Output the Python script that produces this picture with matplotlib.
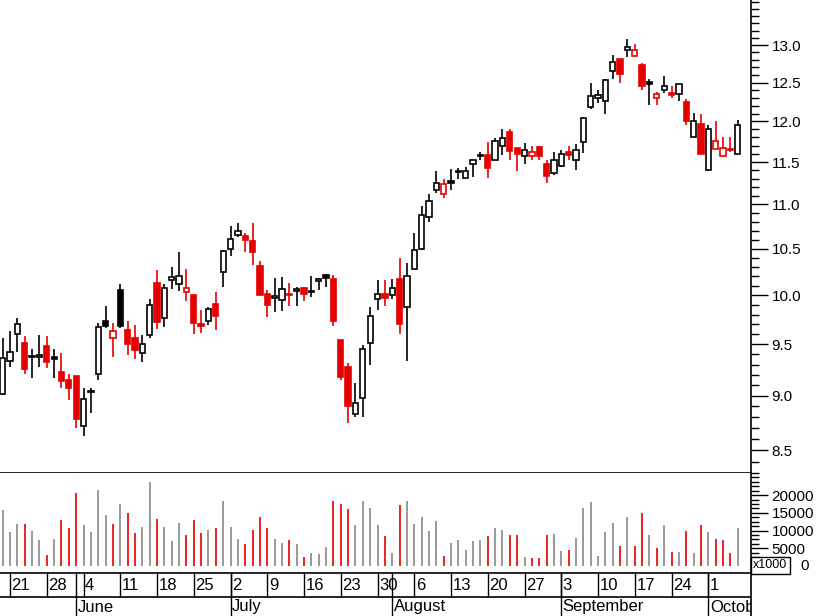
import matplotlib
matplotlib.use("Agg")
import matplotlib.pyplot as plt
import matplotlib.ticker as mt
import numpy as np

plt.rcParams['font.family'] = ['Liberation Sans', 'DejaVu Sans']

opens = [9.02,9.33,9.60,9.51,9.38,9.37,9.48,9.37,9.23,9.15,9.19,8.72,9.04,9.21,9.73,9.56,10.06,9.64,9.56,9.41,
         9.59,10.13,9.76,10.16,10.12,10.04,10.00,9.70,9.73,9.91,10.25,10.50,10.65,10.64,10.59,10.31,10.01,9.97,9.95,10.01,
         10.05,10.08,10.03,10.15,10.22,10.17,9.54,9.28,8.83,8.98,9.51,9.96,10.01,10.00,10.17,9.88,10.28,10.50,10.86,11.17,
         11.12,11.27,11.38,11.31,11.48,11.58,11.58,11.52,11.69,11.87,11.67,11.57,11.57,11.68,11.48,11.37,11.45,11.62,11.52,11.74,
         12.18,12.30,12.26,12.65,12.81,12.93,12.85,12.73,12.51,12.30,12.40,12.36,12.35,12.25,11.81,11.97,11.40,11.66,11.57,11.65,11.60]
highs = [9.56,9.63,9.77,9.58,9.45,9.59,9.58,9.45,9.41,9.21,9.19,9.07,9.07,9.71,9.89,9.71,10.12,9.73,9.69,9.59,
         9.96,10.27,10.12,10.30,10.47,10.28,10.00,9.85,9.88,10.04,10.49,10.75,10.79,10.68,10.79,10.37,10.06,10.18,10.19,10.13,
         10.09,10.09,10.20,10.18,10.23,10.21,9.54,9.31,9.12,9.49,9.88,10.16,10.16,10.17,10.40,10.34,10.67,10.98,11.12,11.39,
         11.30,11.42,11.43,11.44,11.52,11.62,11.74,11.79,11.91,11.91,11.67,11.73,11.69,11.70,11.52,11.62,11.65,11.69,11.72,12.05,
         12.49,12.40,12.55,12.86,12.81,13.09,13.02,12.76,12.55,12.38,12.58,12.45,12.48,12.29,12.11,12.10,11.96,12.00,11.81,11.81,12.02]
lows = [9.01,9.28,9.42,9.21,9.17,9.28,9.27,9.17,9.07,8.96,8.70,8.63,8.84,9.15,9.66,9.37,9.66,9.39,9.35,9.32,
        9.56,9.65,9.67,10.07,10.05,9.94,9.60,9.61,9.69,9.64,10.09,10.42,10.63,10.46,10.32,10.00,9.78,9.83,9.84,9.89,
        9.89,9.94,9.98,10.06,10.09,9.68,9.15,8.75,8.80,8.80,9.30,9.85,9.89,9.96,9.60,9.33,10.28,10.49,10.80,11.13,
        11.07,11.17,11.30,11.31,11.32,11.52,11.31,11.52,11.58,11.52,11.39,11.48,11.53,11.52,11.25,11.34,11.44,11.52,11.40,11.61,
        12.16,12.23,12.10,12.55,12.50,12.84,12.85,12.40,12.21,12.21,12.36,12.30,12.26,11.96,11.81,11.60,11.39,11.66,11.57,11.62,11.60]
closes = [9.36,9.42,9.70,9.26,9.37,9.39,9.32,9.35,9.14,9.07,8.78,8.97,9.05,9.67,9.68,9.63,9.68,9.50,9.44,9.50,
          9.90,9.72,10.08,10.19,10.20,10.08,9.71,9.68,9.86,9.79,10.48,10.61,10.70,10.60,10.46,10.00,9.90,9.99,10.07,10.00,
          10.07,10.01,10.05,10.17,10.18,9.73,9.18,8.90,8.93,9.45,9.79,10.01,9.97,10.08,9.70,10.20,10.49,10.88,11.04,11.25,
          11.24,11.25,11.39,11.39,11.52,11.57,11.43,11.76,11.79,11.64,11.60,11.65,11.62,11.57,11.33,11.52,11.60,11.58,11.65,12.04,
          12.32,12.34,12.53,12.77,12.61,12.97,12.94,12.45,12.48,12.35,12.45,12.34,12.48,12.00,12.01,11.60,11.90,11.76,11.67,11.66,11.95]
volumes = [15800,9700,11800,11800,9900,7300,3100,7600,13000,10700,20700,11600,9700,21400,14400,11800,17500,15000,9400,10900,
           23700,13300,11100,7100,12100,8700,13000,9300,10300,10800,18300,11000,7600,6200,10200,13800,10700,7600,6600,7300,
           6200,2400,3700,3400,5300,18300,17600,16100,11600,18300,16400,11600,8500,3600,17200,18300,11800,13800,10000,12700,
           2700,6600,7300,4500,7100,7300,8500,10700,10200,8700,8700,2400,2200,2200,8700,9000,4200,4500,7900,16400,
           18000,2800,9700,12100,5600,13900,5600,14900,8700,5100,11600,4000,3900,9900,3600,11600,9600,7600,7300,3600,10700]

week_idx = [1,6,11,16,21,26,31,36,41,46,51,56,61,66,71,76,81,86,91,96]
week_labels = ['21','28','4','11','18','25','2','9','16','23','30','6','13','20','27','3','10','17','24','1']
month_idx = [10,31,53,76,96]
month_labels = ['June','July','August','September','October']

RED = '#e60000'
n = len(closes)
x = np.arange(n)
prev = [opens[0]] + closes[:-1]
cols = [RED if c < p else 'black' for c, p in zip(closes, prev)]

W, H = 817, 616
fig = plt.figure(figsize=(W/100, H/100), dpi=100)
xl = (-0.367, 101.77)
axL, axR = 0/W, 750.7/W

ax = fig.add_axes([axL, 1-473/H, axR-axL, 473/H])
ax.set_yscale('log')
ax.set_ylim(8.30, 13.63)
ax.set_xlim(*xl)
bw = 0.72
for i in range(n):
    o, h, l, c = opens[i], highs[i], lows[i], closes[i]
    col = cols[i]
    top, bot = max(o, c), min(o, c)
    ax.vlines(x[i], top, h, color=col, lw=1.2, zorder=2)
    ax.vlines(x[i], l, bot, color=col, lw=1.2, zorder=2)
    hgt = max(top-bot, 0.004)
    filled = c < o
    ax.bar(x[i], hgt, bottom=bot, width=bw, facecolor=col if filled else 'white',
           edgecolor=col, lw=1.2, zorder=3)
ax.yaxis.tick_right()
ax.set_yticks([8.5,9.0,9.5,10.0,10.5,11.0,11.5,12.0,12.5,13.0])
ax.yaxis.set_major_formatter(mt.FormatStrFormatter('%.1f'))
ax.yaxis.set_minor_locator(mt.FixedLocator(np.arange(8.4, 13.65, 0.1)))
ax.yaxis.set_minor_formatter(mt.NullFormatter())
ax.tick_params(axis='y', which='major', length=12, width=1, direction='out', labelsize=11, pad=3)
ax.tick_params(axis='y', which='minor', length=6, width=1, direction='out')
ax.set_xticks([])
for s in ['left', 'top']:
    ax.spines[s].set_visible(False)
ax.spines['right'].set_linewidth(1.2)
ax.spines['bottom'].set_linewidth(1.2)

av = fig.add_axes([axL, 1-573/H, axR-axL, 100/H])
av.set_xlim(*xl)
av.set_ylim(-1980, 26270)
vcol = ['#888888' if c == 'black' else RED for c in cols]
av.vlines(x, 0, volumes, colors=vcol, lw=1.2)
av.yaxis.tick_right()
av.set_yticks([0,5000,10000,15000,20000])
av.yaxis.set_minor_locator(mt.MultipleLocator(1250))
av.tick_params(axis='y', which='major', length=12, width=1, labelsize=11, pad=3)
av.tick_params(axis='y', which='minor', length=6, width=1)
av.set_yticklabels(['', '5000', '10000', '15000', '20000'])
av.set_xticks([])
for s in ['left', 'top']:
    av.spines[s].set_visible(False)
av.spines['right'].set_linewidth(1.2)
av.spines['bottom'].set_linewidth(1.2)
fig.text(809/W, 1-566/H, '0', fontsize=11, va='center', ha='right')
fig.text(753/W, 1-565/H, 'x1000', fontsize=9, va='center', ha='left',
         bbox=dict(boxstyle='square,pad=0.2', fc='white', ec='black', lw=1))

at = fig.add_axes([axL, 0, axR-axL, 43/H])
at.set_xlim(*xl)
at.set_ylim(0, 43)
at.axis('off')
at.axhline(19, color='black', lw=1.2)
for i, lab in zip(week_idx, week_labels):
    at.vlines(i, 19, 43, color='black', lw=1)
    at.text(i + 0.2, 31, lab, fontsize=12, va='center', ha='left', clip_on=True)
for i, lab in zip(month_idx, month_labels):
    at.vlines(i, 0, 43, color='black', lw=1)
    at.text(i + 0.2, 9, lab, fontsize=12, va='center', ha='left', clip_on=True)
at.vlines(101.77, 0, 43, color='black', lw=1.2, clip_on=False)

fig.savefig('out.png', dpi=100)
